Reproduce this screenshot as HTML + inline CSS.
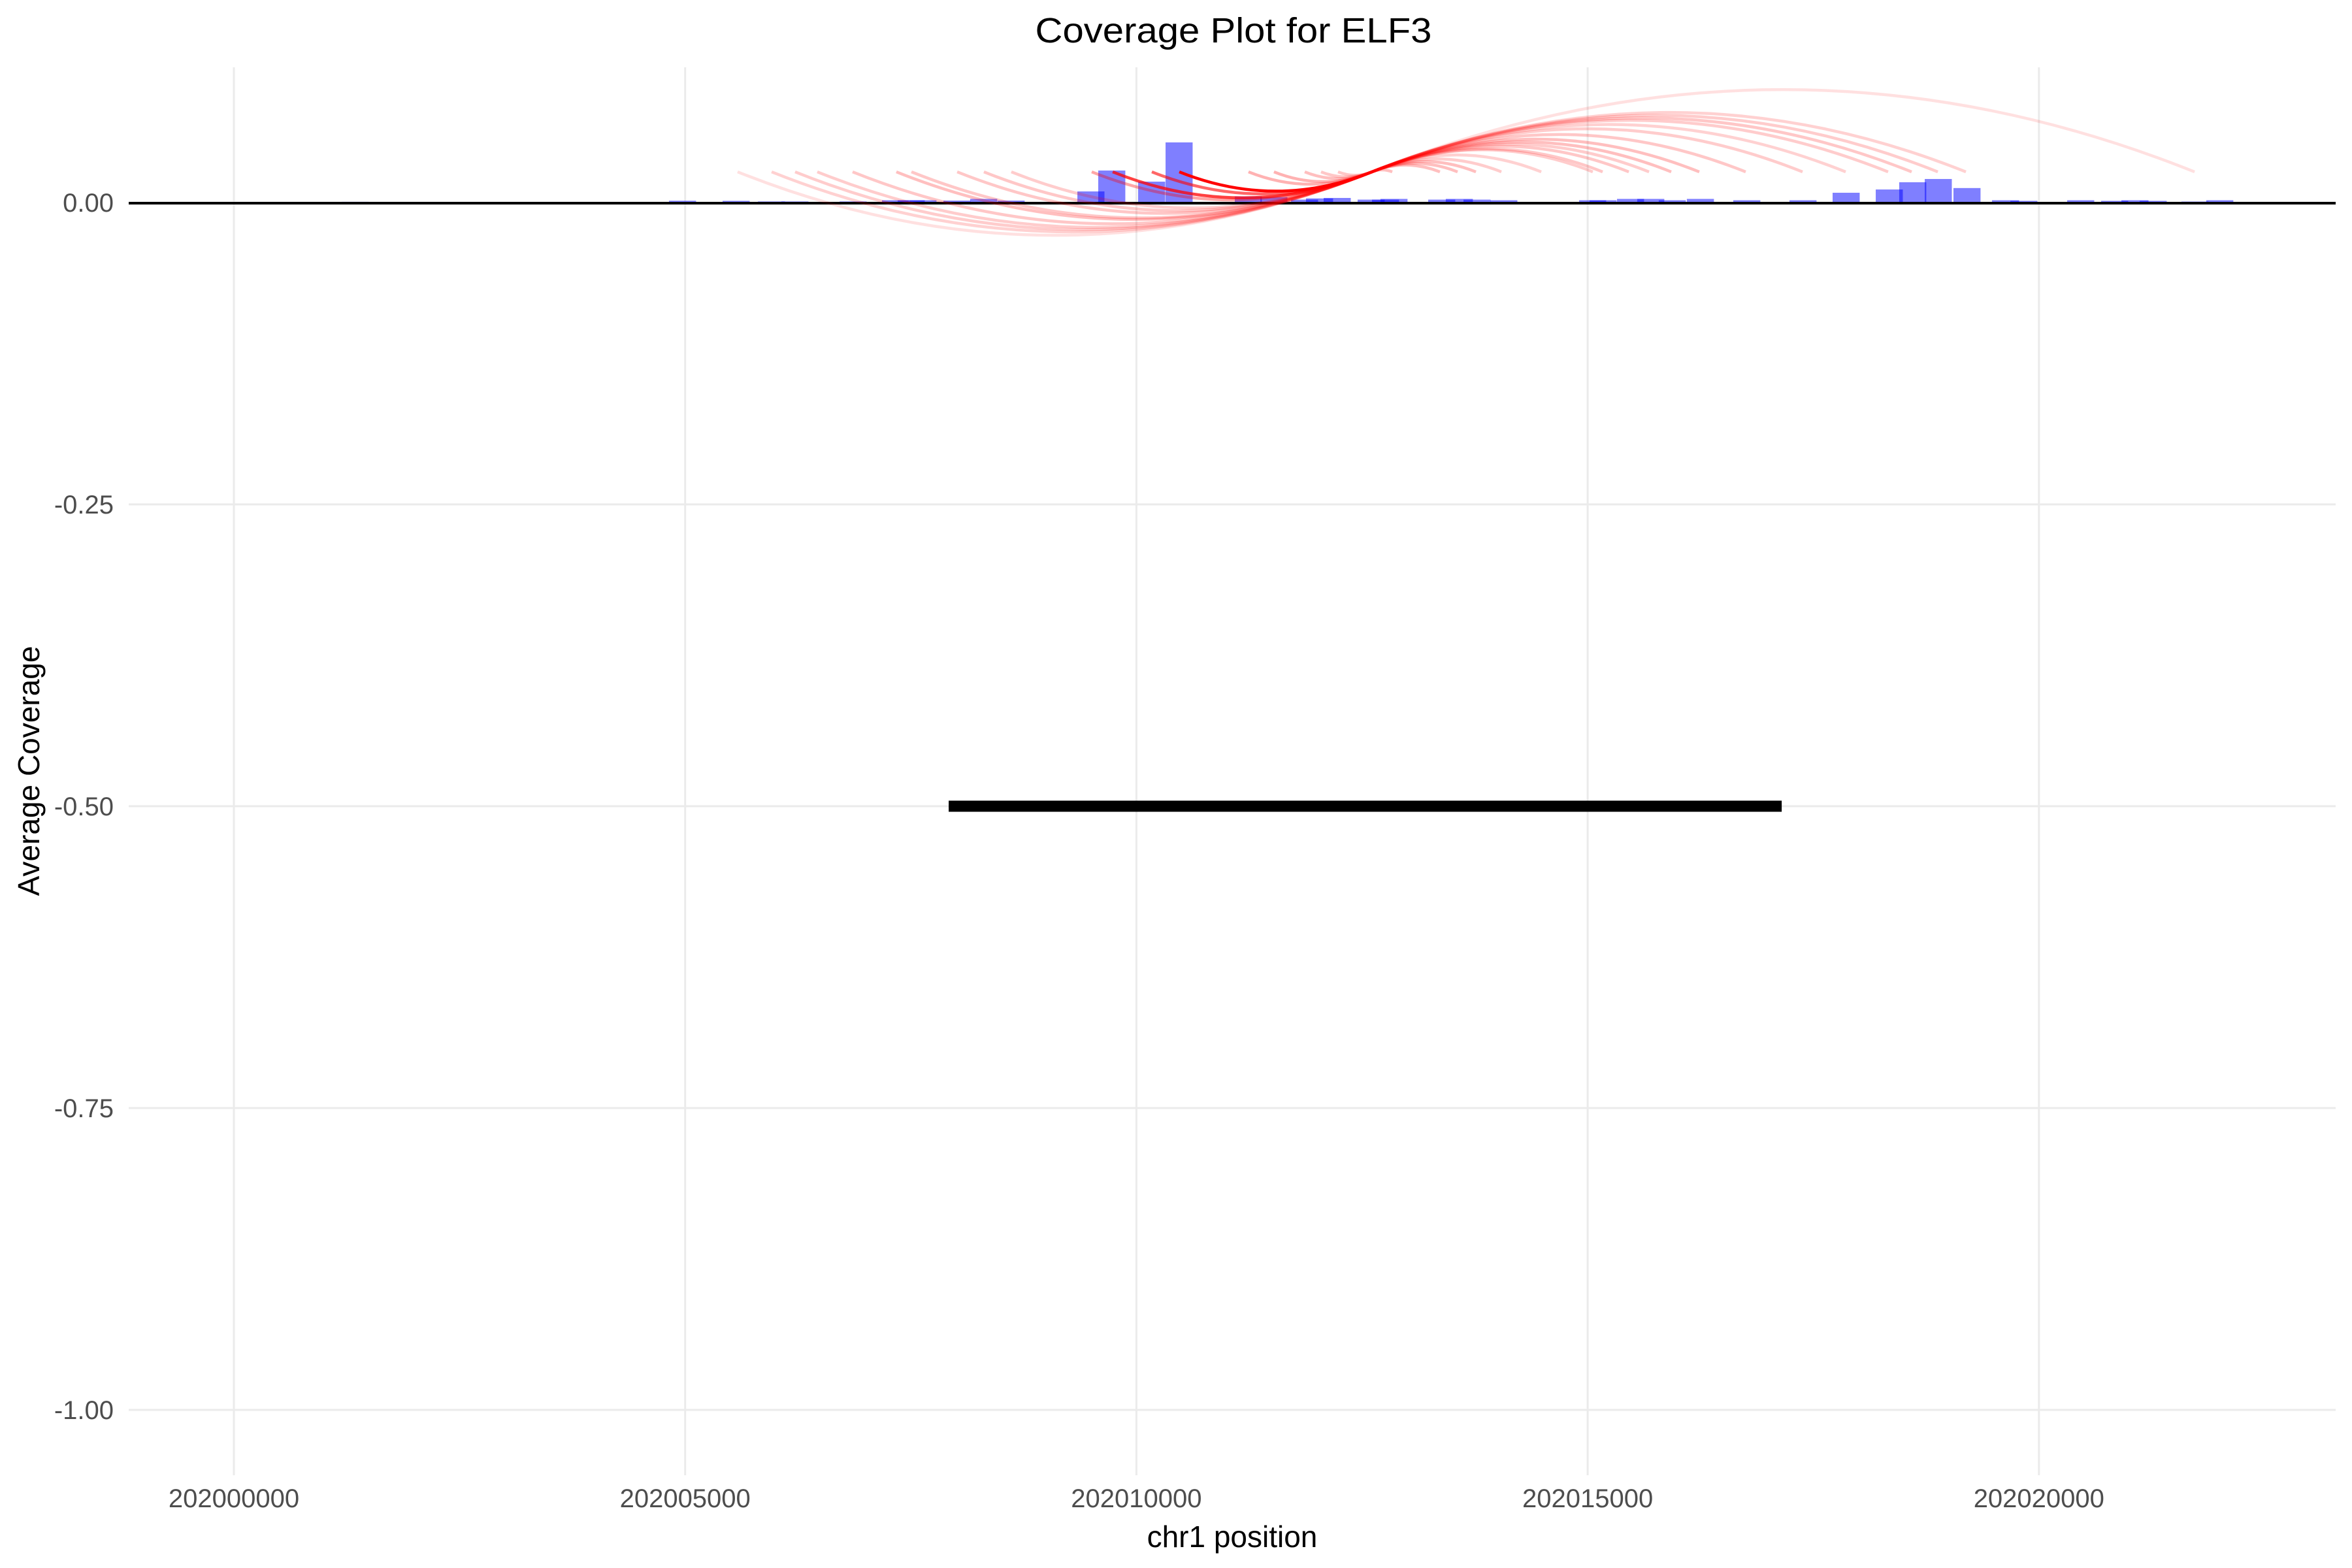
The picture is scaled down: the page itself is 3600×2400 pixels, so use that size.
<!DOCTYPE html>
<html><head><meta charset="utf-8"><style>
html,body{margin:0;padding:0;background:#fff;}
svg{display:block;font-family:"Liberation Sans",Arial,sans-serif;}
</style></head><body>
<svg id="chart" width="3600" height="2400" viewBox="0 0 3600 2400" xmlns="http://www.w3.org/2000/svg">
<rect x="0" y="0" width="3600" height="2400" fill="#fff"/>
<g id="grid"></g>
<g id="bars"></g>
<g id="zero"></g>
<g id="arcs"></g>
<g id="gene"></g>
<g id="xlabels"></g>
<g id="ylabels"></g>
<text x="1888" y="65" font-size="54" text-anchor="middle" fill="#000" textLength="607" lengthAdjust="spacingAndGlyphs">Coverage Plot for ELF3</text>
<text x="1886" y="2368" font-size="46" text-anchor="middle" fill="#000">chr1 position</text>
<text transform="translate(60,1180) rotate(-90)" font-size="46" text-anchor="middle" fill="#000">Average Coverage</text>
</svg>
<script>
// ---- data ----
const xTicks = [202000000, 202005000, 202010000, 202015000, 202020000];
const xTickLabels = ["202000000", "202005000", "202010000", "202015000", "202020000"];
const yTicks = [0, -0.25, -0.5, -0.75, -1.0];
const yTickLabels = ["0.00", "-0.25", "-0.50", "-0.75", "-1.00"];
const barStarts = [202001194, 202002765, 202003214, 202004162, 202004575, 202004821, 202005415, 202005806, 202006066, 202006320, 202006711, 202007181, 202007355, 202007485, 202007862, 202008158, 202008462, 202009346, 202009577, 202010019, 202010323, 202011090, 202011373, 202011713, 202011879, 202012075, 202012451, 202012610, 202012704, 202013233, 202013428, 202013624, 202013921, 202014355, 202014905, 202015021, 202015325, 202015549, 202015788, 202016099, 202016613, 202017236, 202017714, 202018192, 202018452, 202018735, 202019053, 202019480, 202019683, 202020313, 202020689, 202020914, 202021116, 202021579, 202021854];
const barValues = [0.0006, 0.0005, 0.0005, 0.0005, 0.0004, 0.0015, 0.0014, 0.0009, 0.0009, 0.0005, 0.0009, 0.0019, 0.0019, 0.0019, 0.0016, 0.003, 0.0016, 0.0092, 0.0265, 0.0173, 0.0498, 0.0051, 0.0045, 0.0024, 0.0034, 0.0038, 0.0024, 0.0024, 0.003, 0.0024, 0.003, 0.0024, 0.0019, 0.0005, 0.0019, 0.0019, 0.003, 0.003, 0.0019, 0.003, 0.0019, 0.0019, 0.0081, 0.0108, 0.0168, 0.0195, 0.012, 0.0019, 0.0014, 0.0019, 0.0014, 0.0019, 0.0014, 0.0008, 0.0019];
const binWidth = 300;
const hubPos = 202012610;
const arcLevel = 0.0254;
const leftArcStarts = [202005581, 202005958, 202006218, 202006464, 202006855, 202007340, 202007507, 202008014, 202008310, 202008614, 202009505, 202009737, 202010171, 202010475, 202011242, 202011524, 202011865, 202012046, 202012234];
const leftArcAlpha = [0.12, 0.18, 0.2, 0.2, 0.22, 0.25, 0.22, 0.22, 0.22, 0.2, 0.35, 0.75, 0.6, 1.0, 0.3, 0.3, 0.25, 0.22, 0.22];
const rightArcEnds = [202012835, 202013363, 202013559, 202013762, 202014044, 202014486, 202015057, 202015166, 202015456, 202015680, 202015926, 202016237, 202016751, 202017381, 202017859, 202018329, 202018590, 202018880, 202019191, 202021725];
const rightArcAlpha = [0.25, 0.25, 0.25, 0.25, 0.2, 0.18, 0.2, 0.22, 0.22, 0.2, 0.25, 0.25, 0.22, 0.2, 0.18, 0.2, 0.22, 0.2, 0.18, 0.12];
const geneStart = 202007920;
const geneEnd = 202017150;
const geneLevel = -0.5;

// ---- scales ----
const X0 = 358, PXPERBP = 0.13814, Y0 = 310, PXPERUNIT = 1848;
const PL = 197, PR = 3575, PT = 103, PB = 2258;
function xs(bp){ return X0 + (bp - 202000000) * PXPERBP; }
function ys(v){ return Y0 - v * PXPERUNIT; }
const NS = "http://www.w3.org/2000/svg";
function mk(tag, parent, attrs){ const e = document.createElementNS(NS, tag); for (const k in attrs) e.setAttribute(k, attrs[k]); document.getElementById(parent).appendChild(e); return e; }

xTicks.forEach((t, i) => {
  const l = mk('line', 'grid', {x1: xs(t), x2: xs(t), y1: PT, y2: PB, stroke: '#ebebeb', 'stroke-width': 3});
  
  
  const tx = mk('text', 'xlabels', {x: xs(t), y: 2307, 'font-size': 40, 'text-anchor': 'middle', fill: '#4d4d4d'});
  tx.textContent = xTickLabels[i];
  
  
});
yTicks.forEach((t, i) => {
  const l = mk('line', 'grid', {x1: PL, x2: PR, y1: ys(t), y2: ys(t), stroke: '#ebebeb', 'stroke-width': 3});
  
  
  const tx = mk('text', 'ylabels', {x: 174, y: ys(t) + 14, 'font-size': 40, 'text-anchor': 'end', fill: '#4d4d4d'});
  tx.textContent = yTickLabels[i];
  
  
});
barStarts.forEach((s, i) => {
  const x1 = xs(s), x2 = xs(s + binWidth), yt = ys(barValues[i]);
  const r = mk('rect', 'bars', {x: x1, y: yt, width: x2 - x1, height: Math.max(ys(0) - yt, 0.5), fill: '#0000ff', 'fill-opacity': 0.5});
  
  
});
const zl = mk('line', 'zero', {x1: PL, x2: PR, y1: ys(0) + 1, y2: ys(0) + 1, stroke: '#000', 'stroke-width': 4});



function arc(xa, xb, dir, alpha){
  const ya = ys(arcLevel), w = xb - xa;
  const cx = (xa + xb) / 2, cy = ya + dir * 0.2 * w;
  const p = mk('path', 'arcs', {d: `M${xa},${ya} Q${cx},${cy} ${xb},${ya}`, fill: 'none', stroke: '#ff0000', 'stroke-opacity': alpha, 'stroke-width': 4.5});
  return p;
}
leftArcStarts.forEach((s, i) => {
  const p = arc(xs(s), xs(hubPos), 1, leftArcAlpha[i]);
  
  
});
rightArcEnds.forEach((e, i) => {
  const p = arc(xs(hubPos), xs(e), -1, rightArcAlpha[i]);
  
  
});
const g = mk('line', 'gene', {x1: xs(geneStart), x2: xs(geneEnd), y1: ys(geneLevel), y2: ys(geneLevel), stroke: '#000', 'stroke-width': 17});


</script>
</body></html>
